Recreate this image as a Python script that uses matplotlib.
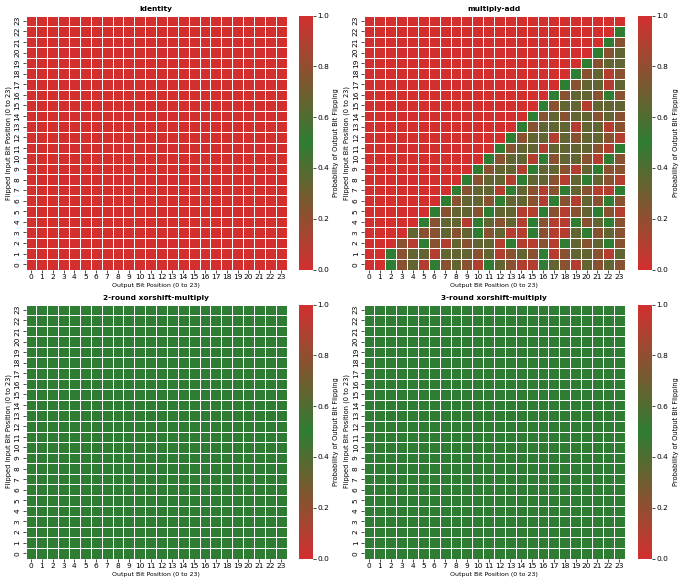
import numpy as np
import matplotlib
matplotlib.use("Agg")
import matplotlib.pyplot as plt
import seaborn as sns
from matplotlib.colors import LinearSegmentedColormap

n_bits = 24
bit_labels = list(range(n_bits))

titles = ["Identity", "multiply-add", "2-round xorshift-multiply", "3-round xorshift-multiply"]

# multiply-add: per input bit, values read for output bits from the diagonal onwards
# (cells left of the diagonal are all red = 0)
# codes: 1 = always flips, 0 = never, G ~ 0.5, o ~ 0.34, b ~ 0.23, r ~ 0.1
levels = {"1": 1.0, "0": 0.0, "G": 0.5, "o": 0.34, "b": 0.23, "r": 0.1}
madd_rows = [
    "1 0 G b o r G b o b r G o b r r G o b r o b o b",
    "1 G b o o r o o o b o r b o b G r b o o b r o",
    "1 b r G b r o b o o r G r r b r G o b o G b",
    "1 o b b o b o G b o r r G b r r o G b o b",
    "1 G b o o r G o b o r G b r r G b o G b",
    "1 G b o o b G o o r r G b r b o G b r",
    "1 G b o o b G o o b r G b r o b G b",
    "1 G b o o r G o b r b G o b r r G",
    "1 G b o o r G o o b r o G o b r",
    "1 G b o o r G o o b r o G b b",
    "1 G b o o r G b o o b r G b",
    "1 G b o o r o o o o b r G",
    "1 G b o o r o b o o b r",
    "1 G b o o o r o o r b",
    "1 G b o b o o b o b",
    "1 G b o o r o o o",
    "1 G b o o b G b",
    "1 G b o o r o",
    "1 G b o r b",
    "1 G b o o",
    "1 G b o",
    "1 G b",
    "1 G",
    "1",
]

identity = np.eye(n_bits)
multiply_add = np.array([[0.0] * (n_bits - len(r.split())) + [levels[c] for c in r.split()]
                         for r in madd_rows])
xorshift2 = np.full((n_bits, n_bits), 0.5)
xorshift3 = np.full((n_bits, n_bits), 0.5)
matrices = [identity, multiply_add, xorshift2, xorshift3]

cmap = LinearSegmentedColormap.from_list("flip", ["#d32f2f", "#2e7d32", "#d32f2f"])

fig = plt.figure(figsize=(6.8, 5.84), dpi=100)

W, H = 680.0, 584.0
hm_lefts = [25.5, 363.6]
cb_lefts = [299.0, 638.3]
tops = [15.5, 304.5]
hm_w, hm_h, cb_w = 261.0, 254.0, 13.5

for k, (mat, title) in enumerate(zip(matrices, titles)):
    row, col = divmod(k, 2)
    bottom = 1 - (tops[row] + hm_h) / H
    ax = fig.add_axes([hm_lefts[col] / W, bottom, hm_w / W, hm_h / H])
    cax = fig.add_axes([cb_lefts[col] / W, bottom, cb_w / W, hm_h / H])
    sns.heatmap(mat, ax=ax, cbar_ax=cax, cmap=cmap, vmin=0, vmax=1,
                linewidths=0.7, linecolor="white",
                xticklabels=bit_labels, yticklabels=bit_labels)
    ax.invert_yaxis()
    ax.set_title(title, fontsize=5.3, fontweight="bold", pad=3)
    ax.set_xlabel("Output Bit Position (0 to 23)", fontsize=4.5, labelpad=2)
    ax.set_ylabel("Flipped Input Bit Position (0 to 23)", fontsize=4.8, labelpad=2)
    ax.tick_params(axis="both", labelsize=5.3, length=2, width=0.5, pad=1.5)
    plt.setp(ax.get_yticklabels(), rotation=90, va="center")
    plt.setp(ax.get_xticklabels(), rotation=0)
    cax.tick_params(labelsize=5.3, length=2, width=0.5, pad=1.5)
    cax.set_ylabel("Probability of Output Bit Flipping", fontsize=4.8, labelpad=3)
    for s in cax.spines.values():
        s.set_visible(False)

fig.savefig("out.png", dpi=100)
